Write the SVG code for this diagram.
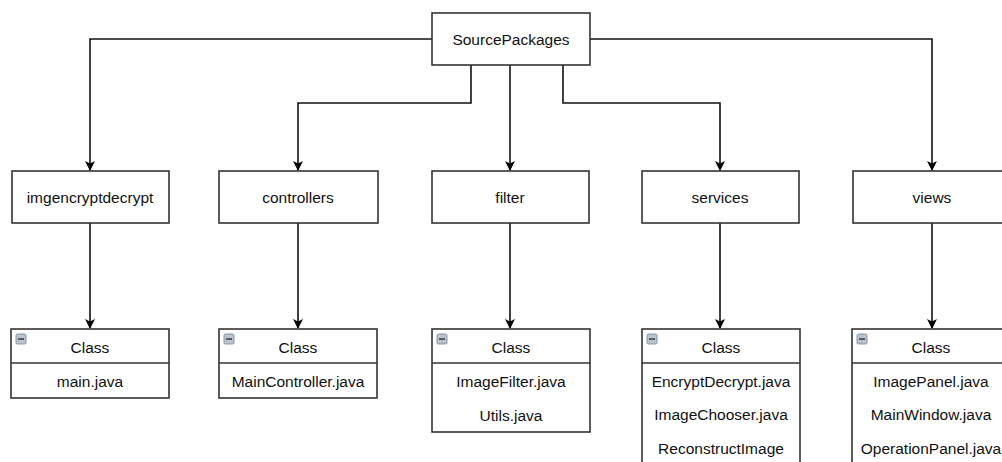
<svg xmlns="http://www.w3.org/2000/svg" width="1002" height="462" viewBox="0 0 1002 462">
<style>
.box{fill:#fff;stroke:#333;stroke-width:1.6}
.t{font-family:"Liberation Sans",Arial,sans-serif;font-size:15.5px;fill:#111;text-anchor:middle}
.c{fill:none;stroke:#111;stroke-width:1.6}
.ic{fill:#b9c3cd;stroke:#7f8d9b;stroke-width:0.9}
.icb{fill:#4a4a4a}
</style>
<defs>
<marker id="ah" viewBox="0 0 10 10" refX="9" refY="5" markerWidth="10" markerHeight="10" markerUnits="userSpaceOnUse" orient="auto">
<path d="M0,0 L10,5 L0,10 L2.5,5 Z" fill="#000"/>
</marker>
<g id="icon"><rect class="ic" x="0" y="0" width="10" height="10" rx="1.5"/><rect class="icb" x="2" y="4.2" width="6" height="1.7"/></g>
</defs>
<rect width="1002" height="462" fill="#fff"/>
<g id="connectors">
<path class="c" d="M432,39 H90 V170" marker-end="url(#ah)"/>
<path class="c" d="M471,65 V103 H298 V170" marker-end="url(#ah)"/>
<path class="c" d="M510,65 V170" marker-end="url(#ah)"/>
<path class="c" d="M563,65 V103 H720 V170" marker-end="url(#ah)"/>
<path class="c" d="M590,39 H932 V170" marker-end="url(#ah)"/>
<path class="c" d="M90,223 V328" marker-end="url(#ah)"/>
<path class="c" d="M298,223 V328" marker-end="url(#ah)"/>
<path class="c" d="M510,223 V328" marker-end="url(#ah)"/>
<path class="c" d="M720,223 V328" marker-end="url(#ah)"/>
<path class="c" d="M932,223 V328" marker-end="url(#ah)"/>
</g>
<g id="sourcepackages"><rect class="box" x="432" y="13" width="158" height="52"/><text class="t" x="511" y="44.5">SourcePackages</text></g>
<g id="imgencryptdecrypt"><rect class="box" x="12" y="171" width="157" height="52"/><text class="t" x="90" y="202.5">imgencryptdecrypt</text></g>
<g id="controllers"><rect class="box" x="219" y="171" width="159" height="52"/><text class="t" x="298" y="202.5">controllers</text></g>
<g id="filter"><rect class="box" x="432" y="171" width="157" height="52"/><text class="t" x="510" y="202.5">filter</text></g>
<g id="services"><rect class="box" x="642" y="171" width="157" height="52"/><text class="t" x="720" y="202.5">services</text></g>
<g id="views"><rect class="box" x="853" y="171" width="158" height="52"/><text class="t" x="932" y="202.5">views</text></g>

<g id="class-imgencryptdecrypt">
<rect class="box" x="11" y="329" width="158" height="69"/>
<line class="box" x1="11" y1="363" x2="169" y2="363"/>
<use href="#icon" x="16" y="334"/>
<text class="t" x="90" y="352.5">Class</text>
<text class="t" x="90" y="386.5">main.java</text>
</g>
<g id="class-controllers">
<rect class="box" x="219" y="329" width="158" height="69"/>
<line class="box" x1="219" y1="363" x2="377" y2="363"/>
<use href="#icon" x="224" y="334"/>
<text class="t" x="298" y="352.5">Class</text>
<text class="t" x="298" y="386.5">MainController.java</text>
</g>
<g id="class-filter">
<rect class="box" x="432" y="329" width="158" height="103"/>
<line class="box" x1="432" y1="363" x2="590" y2="363"/>
<use href="#icon" x="437" y="334"/>
<text class="t" x="511" y="352.5">Class</text>
<text class="t" x="511" y="386.5">ImageFilter.java</text>
<text class="t" x="511" y="420.5">Utils.java</text>
</g>
<g id="class-services">
<rect class="box" x="642" y="329" width="158" height="150"/>
<line class="box" x1="642" y1="363" x2="800" y2="363"/>
<use href="#icon" x="647" y="334"/>
<text class="t" x="721" y="352.5">Class</text>
<text class="t" x="721" y="386.5">EncryptDecrypt.java</text>
<text class="t" x="721" y="420">ImageChooser.java</text>
<text class="t" x="721" y="454">ReconstructImage</text>
</g>
<g id="class-views">
<rect class="box" x="852" y="329" width="158" height="150"/>
<line class="box" x1="852" y1="363" x2="1010" y2="363"/>
<use href="#icon" x="857" y="334"/>
<text class="t" x="931" y="352.5">Class</text>
<text class="t" x="931" y="386.5">ImagePanel.java</text>
<text class="t" x="931" y="420">MainWindow.java</text>
<text class="t" x="931" y="454">OperationPanel.java</text>
</g>
</svg>
